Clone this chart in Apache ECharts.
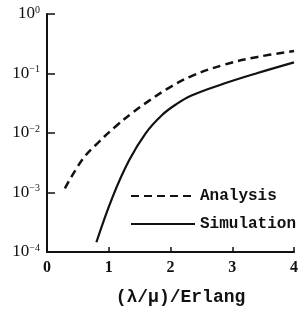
<!DOCTYPE html>
<html>
<head>
<meta charset="utf-8">
<script src="https://cdn.jsdelivr.net/npm/echarts@6/dist/echarts.min.js"></script>
<style>
  html, body { margin: 0; padding: 0; background: #fff; }
  #chart { width: 301px; height: 311px; }
</style>
</head>
<body>
<div id="chart"></div>
<script>
// values
const analysisX = [0.29, 0.58, 0.85, 1.12, 1.38, 1.65, 1.94, 2.34, 2.88, 3.41, 4.0];
const analysisY = [0.00117, 0.00366, 0.00724, 0.0131, 0.0218, 0.0347, 0.0546, 0.0906, 0.1416, 0.19, 0.239];
const simulationX = [0.8, 1.06, 1.33, 1.6, 1.86, 2.08, 2.34, 2.88, 3.41, 4.0];
const simulationY = [0.000146, 0.00083, 0.00347, 0.00998, 0.0199, 0.0298, 0.0427, 0.0684, 0.102, 0.154];
const xTicks = ['0', '1', '2', '3', '4'];
const yExponents = ['0', '−1', '−2', '−3', '−4'];
const legendNames = ['Analysis', 'Simulation'];

const pairs = (xs, ys) => xs.map((x, i) => [x, ys[i]]);

const chart = echarts.init(document.getElementById('chart'));
chart.setOption({
    animation: false,
    backgroundColor: '#fff',
    color: ['#111', '#111'],
    grid: { left: 47, right: 4, top: 14, bottom: 54 },
    legend: {
        orient: 'vertical',
        left: 125,
        top: 183,
        itemWidth: 64,
        itemHeight: 12,
        itemGap: 12,
        data: legendNames,
        itemStyle: { opacity: 0 },
        textStyle: { color: '#111', fontFamily: 'Liberation Mono', fontWeight: 'bold', fontSize: 16 },
    },
    xAxis: {
        type: 'value',
        min: 0,
        max: 4,
        interval: 1,
        name: '(λ/μ)/Erlang',
        nameLocation: 'middle',
        nameGap: 36,
        nameTextStyle: { color: '#111', fontFamily: 'Liberation Mono', fontWeight: 'bold', fontSize: 18, padding: [0, 0, 0, 20] },
        axisLine: { lineStyle: { color: '#111', width: 2 } },
        axisTick: { inside: true, length: 5, lineStyle: { color: '#111', width: 1.5 } },
        axisLabel: {
            margin: 8,
            color: '#111',
            fontFamily: 'Liberation Serif',
            fontWeight: 'bold',
            fontSize: 16,
            formatter: (v) => xTicks[Math.round(v)],
        },
        splitLine: { show: false },
    },
    yAxis: {
        type: 'log',
        logBase: 10,
        min: 0.0001,
        max: 1,
        axisLine: { show: true, lineStyle: { color: '#111', width: 2 } },
        axisTick: { show: true, inside: true, length: 8, lineStyle: { color: '#111', width: 1.5 } },
        minorTick: { show: false },
        splitLine: { show: false },
        axisLabel: {
            margin: 7,
            formatter: (v) => '{b|10}{s|' + yExponents[Math.round(-Math.log10(v))] + '}',
            rich: {
                b: { color: '#111', fontFamily: 'Liberation Serif', fontSize: 17, lineHeight: 18 },
                s: { color: '#111', fontFamily: 'Liberation Serif', fontSize: 10, verticalAlign: 'top', lineHeight: 18 },
            },
        },
    },
    series: [
        {
            name: legendNames[0],
            type: 'line',
            smooth: 0.4,
            symbol: 'none',
            lineStyle: { color: '#111', width: 2.5, type: [8, 5] },
            data: pairs(analysisX, analysisY),
        },
        {
            name: legendNames[1],
            type: 'line',
            smooth: 0.4,
            symbol: 'none',
            lineStyle: { color: '#111', width: 2.2 },
            data: pairs(simulationX, simulationY),
        },
    ],
});
</script>
</body>
</html>
